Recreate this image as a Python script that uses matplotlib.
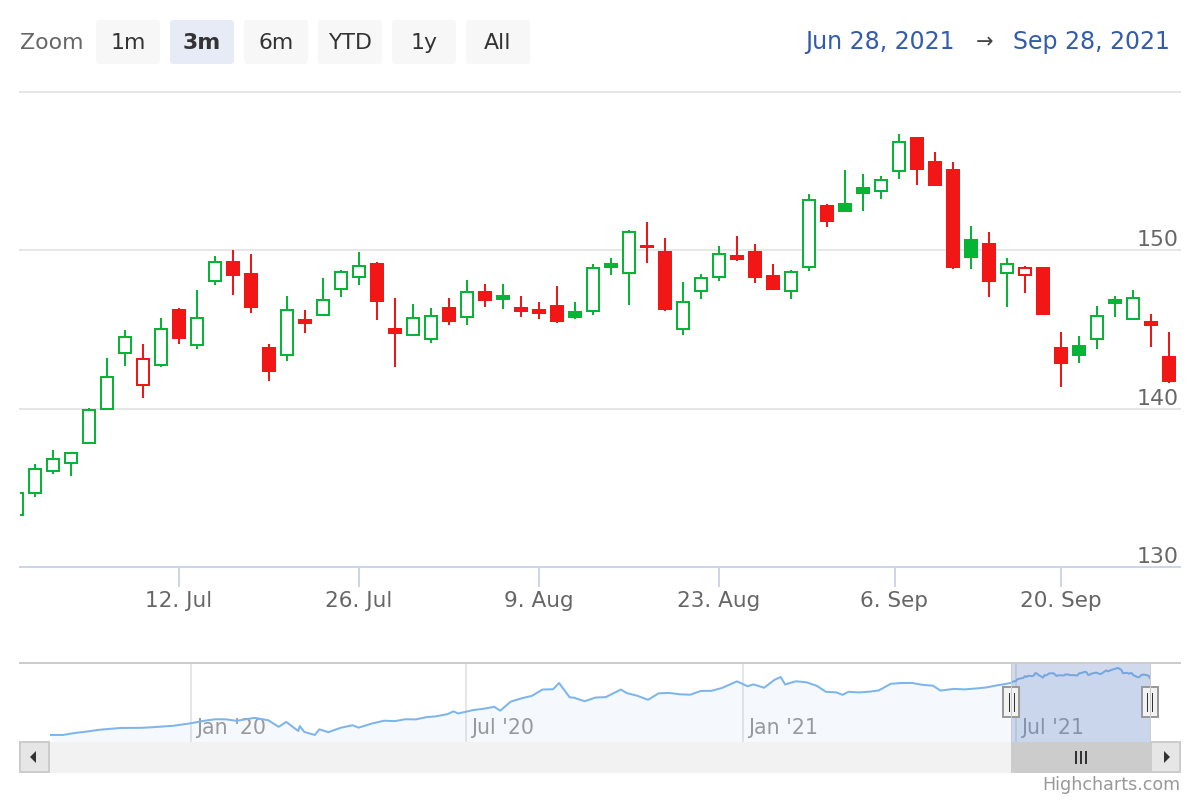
import matplotlib
matplotlib.use("Agg")
import matplotlib.pyplot as plt
import matplotlib.dates as mdates
from matplotlib.patches import Rectangle, FancyBboxPatch, Polygon
import numpy as np

plt.rcParams['font.family'] = ['DejaVu Sans']

# ---------------- data ----------------
dates = ["2021-06-28", "2021-06-29", "2021-06-30", "2021-07-01", "2021-07-02",
         "2021-07-06", "2021-07-07", "2021-07-08", "2021-07-09", "2021-07-12",
         "2021-07-13", "2021-07-14", "2021-07-15", "2021-07-16", "2021-07-19",
         "2021-07-20", "2021-07-21", "2021-07-22", "2021-07-23", "2021-07-26",
         "2021-07-27", "2021-07-28", "2021-07-29", "2021-07-30", "2021-08-02",
         "2021-08-03", "2021-08-04", "2021-08-05", "2021-08-06", "2021-08-09",
         "2021-08-10", "2021-08-11", "2021-08-12", "2021-08-13", "2021-08-16",
         "2021-08-17", "2021-08-18", "2021-08-19", "2021-08-20", "2021-08-23",
         "2021-08-24", "2021-08-25", "2021-08-26", "2021-08-27", "2021-08-30",
         "2021-08-31", "2021-09-01", "2021-09-02", "2021-09-03", "2021-09-07",
         "2021-09-08", "2021-09-09", "2021-09-10", "2021-09-13", "2021-09-14",
         "2021-09-15", "2021-09-16", "2021-09-17", "2021-09-20", "2021-09-21",
         "2021-09-22", "2021-09-23", "2021-09-24", "2021-09-27", "2021-09-28"]

opens = [133.30, 134.67, 136.04, 136.55, 137.80, 140.00, 143.52, 141.48, 142.74, 146.24,
         144.02, 148.07, 149.27, 148.53, 143.85, 143.39, 145.62, 145.92, 147.56, 148.32,
         149.16, 145.01, 144.65, 144.40, 146.38, 145.79, 147.37, 147.14, 146.38, 146.25,
         146.50, 146.13, 146.17, 149.16, 148.57, 150.30, 149.92, 145.05, 147.45, 148.32,
         149.66, 149.92, 148.40, 147.45, 148.97, 152.81, 152.93, 153.94, 153.75, 155.04,
         157.10, 155.59, 155.08, 150.68, 150.42, 148.57, 148.45, 148.91, 143.85, 143.98,
         144.40, 146.86, 145.66, 145.49, 143.24]

highs = [135.20, 136.50, 137.37, 137.25, 140.02, 143.19, 144.97, 144.09, 145.71, 146.37,
         147.52, 149.66, 150.04, 149.79, 144.10, 147.14, 146.25, 148.27, 148.78, 149.92,
         149.29, 147.01, 146.63, 146.38, 147.01, 148.15, 147.90, 147.90, 147.14, 146.76,
         147.77, 146.76, 149.14, 149.54, 151.31, 151.81, 150.80, 148.02, 148.53, 150.30,
         150.93, 150.42, 149.16, 148.76, 153.57, 152.93, 155.08, 154.83, 154.70, 157.36,
         157.15, 156.22, 155.59, 151.54, 151.18, 149.54, 149.01, 148.95, 144.86, 144.61,
         146.50, 147.14, 147.50, 146.00, 144.86]

lows = [133.10, 134.40, 135.89, 135.76, 137.75, 139.95, 142.72, 140.70, 142.65, 144.11,
        143.77, 147.79, 147.16, 146.04, 141.72, 142.98, 144.75, 145.88, 147.03, 147.79,
        145.62, 142.60, 144.60, 144.12, 145.26, 145.26, 146.40, 146.27, 145.76, 145.64,
        145.39, 145.64, 145.89, 148.42, 146.52, 149.18, 146.20, 144.63, 146.90, 148.07,
        149.30, 147.91, 147.50, 146.90, 148.70, 151.45, 152.45, 152.47, 153.22, 154.49,
        154.11, 154.08, 148.80, 148.80, 147.03, 146.40, 147.28, 145.89, 141.34, 142.86,
        143.74, 145.76, 145.60, 143.87, 141.61]

closes = [134.70, 136.20, 136.84, 137.22, 139.90, 142.02, 144.55, 143.16, 145.06, 144.49,
          145.70, 149.24, 148.42, 146.40, 142.35, 146.23, 145.39, 146.86, 148.63, 149.01,
          146.78, 144.75, 145.70, 145.85, 145.51, 147.37, 146.85, 146.93, 146.14, 146.02,
          145.51, 145.76, 148.86, 148.95, 151.16, 150.19, 146.27, 146.71, 148.23, 149.77,
          149.43, 148.29, 147.53, 148.63, 153.16, 151.83, 152.47, 153.60, 154.42, 156.85,
          155.15, 154.11, 148.93, 149.56, 148.04, 149.14, 148.89, 146.00, 142.86, 143.36,
          145.85, 146.65, 146.99, 145.26, 141.74]

xtick_dates = ["2021-07-12", "2021-07-26", "2021-08-09", "2021-08-23", "2021-09-06", "2021-09-20"]
xtick_labels = ["12. Jul", "26. Jul", "9. Aug", "23. Aug", "6. Sep", "20. Sep"]
ytick_values = [130, 140, 150, 160]
ytick_labels = ["130", "140", "150", ""]

# navigator history (before the candlestick window)
nav_dates = ["2019-09-30", "2019-10-08", "2019-10-15", "2019-10-25", "2019-11-01", "2019-11-15",
             "2019-11-29", "2019-12-06", "2019-12-13", "2019-12-20", "2019-12-31", "2020-01-10",
             "2020-01-17", "2020-01-24", "2020-01-31", "2020-02-07", "2020-02-12", "2020-02-21",
             "2020-02-28", "2020-03-04", "2020-03-12", "2020-03-13", "2020-03-16", "2020-03-23",
             "2020-03-26", "2020-04-01", "2020-04-09", "2020-04-17", "2020-04-21", "2020-04-30",
             "2020-05-08", "2020-05-15", "2020-05-22", "2020-05-29", "2020-06-05", "2020-06-11",
             "2020-06-19", "2020-06-23", "2020-06-26", "2020-07-06", "2020-07-13", "2020-07-20",
             "2020-07-24", "2020-07-31", "2020-08-07", "2020-08-14", "2020-08-21", "2020-08-28",
             "2020-09-01", "2020-09-08", "2020-09-11", "2020-09-18", "2020-09-25", "2020-10-02",
             "2020-10-12", "2020-10-16", "2020-10-23", "2020-10-30", "2020-11-06", "2020-11-13",
             "2020-11-20", "2020-11-27", "2020-12-04", "2020-12-11", "2020-12-18", "2020-12-28",
             "2021-01-04", "2021-01-08", "2021-01-15", "2021-01-22", "2021-01-26", "2021-01-29",
             "2021-02-05", "2021-02-12", "2021-02-19", "2021-02-25", "2021-03-04", "2021-03-08",
             "2021-03-12", "2021-03-19", "2021-03-26", "2021-04-01", "2021-04-09", "2021-04-16",
             "2021-04-23", "2021-04-30", "2021-05-07", "2021-05-12", "2021-05-21", "2021-05-28",
             "2021-06-04", "2021-06-11", "2021-06-18", "2021-06-25"]
nav_closes = [56.1, 56.1, 58.8, 61.6, 63.9, 66.6,
              66.8, 67.7, 68.8, 69.9, 73.4, 77.6,
              79.7, 79.6, 77.4, 80.0, 81.8, 78.3,
              68.3, 75.7, 62.1, 69.5, 60.6, 56.1,
              64.6, 60.2, 66.8, 70.7, 67.1, 73.4,
              77.5, 76.9, 79.7, 79.5, 82.9, 84.0,
              87.4, 91.6, 88.4, 93.5, 95.5, 98.4,
              92.6, 106.3, 111.1, 114.9, 124.4, 124.8,
              134.2, 112.8, 112.0, 106.8, 112.3, 113.0,
              124.4, 119.0, 115.0, 108.9, 118.7, 119.3,
              117.3, 116.6, 122.3, 122.4, 126.7, 136.7,
              129.4, 132.1, 127.1, 139.1, 143.2, 132.0,
              136.8, 135.4, 129.9, 121.0, 120.1, 116.4,
              121.0, 120.0, 121.2, 123.0, 133.0, 134.2,
              134.3, 131.5, 130.2, 122.8, 125.4, 124.6,
              125.9, 127.4, 130.5, 133.1]
nav_tick_dates = ["2020-01-01", "2020-07-01", "2021-01-01", "2021-07-01"]
nav_tick_labels = ["Jan '20", "Jul '20", "Jan '21", "Jul '21"]

zoom_buttons = ["1m", "3m", "6m", "YTD", "1y", "All"]
selected_button = "3m"
range_from = "Jun 28, 2021"
range_to = "Sep 28, 2021"

# ---------------- style ----------------
W, H = 1200, 800
PT = 0.72  # points per pixel at dpi 100
GREEN = '#06b535'
RED = '#f21616'
GRID = '#e6e6e6'
AXIS = '#ccd6eb'
LABEL = '#666666'

fig = plt.figure(figsize=(12, 8), dpi=100)
fig.patch.set_facecolor('white')

# ---------------- main candlestick axes ----------------
ax = fig.add_axes([20 / W, 1 - 567 / H, 1160 / W, 475 / H])
n = len(dates)
ax.set_xlim((20 - 17) / 18, (1180 - 17) / 18)
ax.set_ylim(ytick_values[0], ytick_values[-1])
for s in ax.spines.values():
    s.set_visible(False)
ax.set_yticks([])

for v in ytick_values[1:]:
    ax.axhline(v, color=GRID, lw=2 * PT, zorder=0, clip_on=False)
ax.axhline(ytick_values[0], color=AXIS, lw=2 * PT, zorder=0.5, clip_on=False)
for v, lab in zip(ytick_values, ytick_labels):
    if lab:
        ax.annotate(lab, xy=(1, v), xycoords=('axes fraction', 'data'),
                    xytext=(-1, 4), textcoords='offset pixels',
                    ha='right', va='baseline', color=LABEL, fontsize=15.8)

date_nums = mdates.datestr2num(dates)
tick_pos = np.interp(mdates.datestr2num(xtick_dates), date_nums, np.arange(n))
ax.set_xticks(tick_pos)
ax.set_xticklabels(xtick_labels)
ax.tick_params(axis='x', length=20 * PT, width=2 * PT, color=AXIS,
               labelcolor=LABEL, labelsize=15.5, pad=3)

bw = 0.68
for i in range(n):
    o, h, l, c = opens[i], highs[i], lows[i], closes[i]
    prev = closes[i - 1] if i > 0 else o
    col = GREEN if c >= prev else RED
    hollow = c > o
    top, bot = max(o, c), min(o, c)
    ax.add_patch(Rectangle((i - bw / 2, bot), bw, max(top - bot, 0.05),
                           facecolor='white' if hollow else col, edgecolor=col,
                           lw=2 * PT, joinstyle='miter', zorder=3))
    ax.plot([i, i], [top, h], color=col, lw=2 * PT, solid_capstyle='butt', zorder=2)
    ax.plot([i, i], [l, bot], color=col, lw=2 * PT, solid_capstyle='butt', zorder=2)

# ---------------- navigator ----------------
ax_nav = fig.add_axes([48 / W, 1 - 742 / H, 1102 / W, 79 / H])
nav_x = np.concatenate([mdates.datestr2num(nav_dates), date_nums])
nav_y = np.array(nav_closes + closes)
ax_nav.set_xlim(nav_x[0] - 2, nav_x[-1])
ax_nav.set_ylim(45.5, 164.3)
ax_nav.axis('off')
for d in mdates.datestr2num(nav_tick_dates):
    ax_nav.axvline(d, color=GRID, lw=2 * PT, zorder=0)
for d, lab in zip(mdates.datestr2num(nav_tick_dates), nav_tick_labels):
    ax_nav.annotate(lab, xy=(d, 0), xycoords=('data', 'axes fraction'),
                    xytext=(5, 8), textcoords='offset pixels',
                    ha='left', va='baseline', color='#999999', fontsize=14.8, zorder=1)
ax_nav.fill_between(nav_x, nav_y, 0, color='#7cb5ec', alpha=0.07, lw=0, zorder=1)
ax_nav.plot(nav_x, nav_y, color='#7cb5ec', lw=2 * PT, zorder=2)
ax_nav.axvspan(date_nums[0], date_nums[-1], color=(102 / 255, 133 / 255, 194 / 255, 0.3),
               lw=0, zorder=3)

x0 = ax_nav.transData.transform((date_nums[0], 0))[0]
x1 = ax_nav.transData.transform((date_nums[-1], 0))[0]

# ---------------- overlay (pixel coords) ----------------
ov = fig.add_axes([0, 0, 1, 1], zorder=10)
ov.set_xlim(0, W)
ov.set_ylim(H, 0)
ov.axis('off')
ov.patch.set_visible(False)

# navigator outline
ov.plot([20, 1180], [663, 663], color='#cccccc', lw=2 * PT)
ov.plot([x0, x0], [663, 742], color='#cccccc', lw=1 * PT)
ov.plot([x1, x1], [663, 742], color='#cccccc', lw=1 * PT)

# scrollbar
ov.add_patch(Rectangle((20, 742), 1160, 30, fc='#f2f2f2', ec='#f2f2f2', lw=1 * PT))
ov.add_patch(Rectangle((x0, 742), x1 - x0, 30, fc='#cccccc', ec='#cccccc', lw=1 * PT))
for xb in (20, 1151):
    ov.add_patch(Rectangle((xb, 742), 29, 30, fc='#e6e6e6', ec='#cccccc', lw=2 * PT))
ov.add_patch(Polygon([(30, 757), (36, 751), (36, 763)], closed=True, fc='#333333', ec='none'))
ov.add_patch(Polygon([(1170, 757), (1164, 751), (1164, 763)], closed=True, fc='#333333', ec='none'))
cx = (x0 + x1) / 2
for dx in (-5, 0, 5):
    ov.plot([cx + dx, cx + dx], [752, 763], color='#333333', lw=2 * PT)

# handles
for xh in (x0, x1):
    ov.add_patch(Rectangle((xh - 8, 687), 16, 30, fc='#f2f2f2', ec='#999999', lw=2 * PT))
    for dx in (-2.5, 2.5):
        ov.plot([xh + dx, xh + dx], [693, 711], color='#333333', lw=1 * PT)

# range selector
ov.text(20, 43, "Zoom", ha='left', va='center', color=LABEL, fontsize=15.8)
for k, lab in enumerate(zoom_buttons):
    bx = 96 + k * 74
    sel = lab == selected_button
    ov.add_patch(FancyBboxPatch((bx, 20), 64, 44, boxstyle='round,pad=0,rounding_size=3',
                                fc='#e6ebf5' if sel else '#f7f7f7', ec='none'))
    ov.text(bx + 32, 43, lab, ha='center', va='center', color='#333333', fontsize=15.8,
            fontweight='bold' if sel else 'normal')

ov.text(955, 42, range_from, ha='right', va='center', color='#335cad', fontsize=17)
ov.text(985, 42, "\u2192", ha='center', va='center', color='#444444', fontsize=15)
ov.text(1170, 42, range_to, ha='right', va='center', color='#335cad', fontsize=17)

ov.text(1180, 785, "Highcharts.com", ha='right', va='center', color='#999999', fontsize=12.6)

fig.savefig("out.png", dpi=100, facecolor='white')
